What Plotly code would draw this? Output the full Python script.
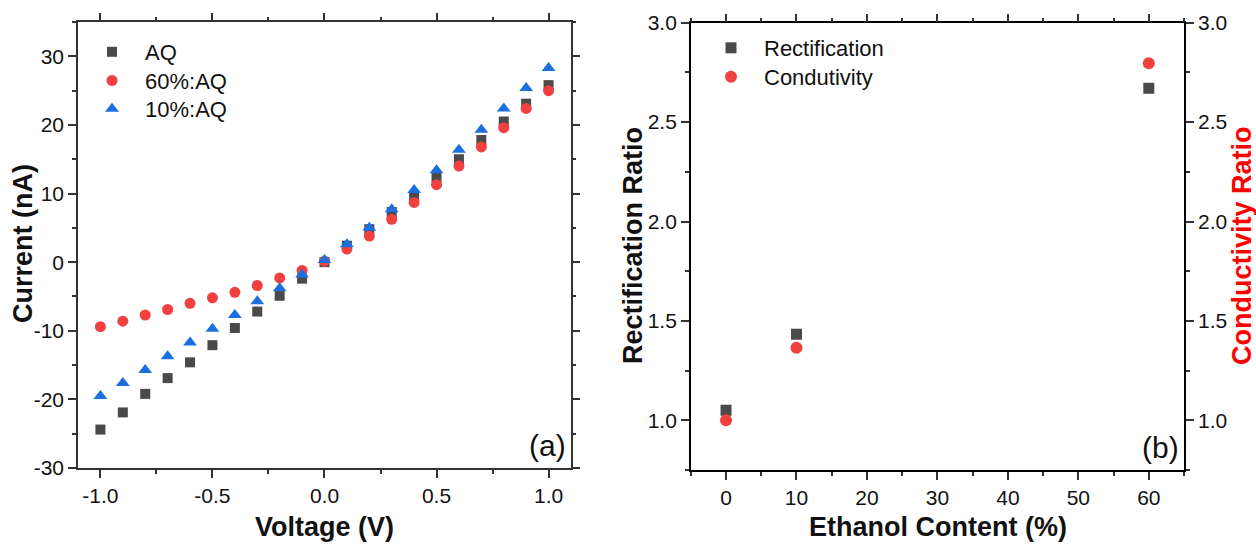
import plotly.graph_objects as go

# ---------------- data ----------------
voltage = [-1.0, -0.9, -0.8, -0.7, -0.6, -0.5, -0.4, -0.3, -0.2, -0.1, 0.0,
           0.1, 0.2, 0.3, 0.4, 0.5, 0.6, 0.7, 0.8, 0.9, 1.0]
current_aq = [-24.4, -21.9, -19.2, -16.9, -14.6, -12.1, -9.6, -7.2, -4.9, -2.4, 0.0,
              2.4, 4.8, 7.3, 9.7, 12.3, 15.0, 17.8, 20.5, 23.1, 25.8]
current_60 = [-9.4, -8.6, -7.7, -6.9, -6.0, -5.2, -4.4, -3.4, -2.3, -1.2, 0.15,
              1.9, 3.8, 6.25, 8.7, 11.3, 14.0, 16.8, 19.6, 22.4, 25.0]
current_10 = [-19.5, -17.6, -15.7, -13.7, -11.7, -9.7, -7.7, -5.7, -3.8, -1.8, 0.3,
              2.6, 5.0, 7.7, 10.5, 13.4, 16.4, 19.3, 22.4, 25.4, 28.3]

ethanol = [0, 10, 60]
rectification = [1.05, 1.433, 2.67]
conductivity = [1.0, 1.365, 2.796]

v_ticks = [-1.0, -0.5, 0.0, 0.5, 1.0]
v_ticktext = ["-1.0", "-0.5", "0.0", "0.5", "1.0"]
i_ticks = [-30, -20, -10, 0, 10, 20, 30]
i_ticktext = ["-30", "-20", "-10", "0", "10", "20", "30"]

gray = "#4a4a4a"
red = "#f04040"
blue = "#1b6fdf"
axcol = "#333333"
FONT = "Liberation Sans, Arial, sans-serif"

fig = go.Figure()

fig.add_trace(go.Scatter(x=voltage, y=current_aq, mode="markers", name="AQ",
                         marker=dict(symbol="square", size=10, color=gray),
                         xaxis="x", yaxis="y", legend="legend"))
fig.add_trace(go.Scatter(x=voltage, y=current_60, mode="markers", name="60%:AQ",
                         marker=dict(symbol="circle", size=11, color=red),
                         xaxis="x", yaxis="y", legend="legend2"))
fig.add_trace(go.Scatter(x=voltage, y=current_10, mode="markers", name="10%:AQ",
                         marker=dict(symbol="triangle-up", size=12, color=blue),
                         xaxis="x", yaxis="y", legend="legend3"))

fig.add_trace(go.Scatter(x=ethanol, y=rectification, mode="markers", name="Rectification",
                         marker=dict(symbol="square", size=11, color=gray),
                         xaxis="x2", yaxis="y2", legend="legend4"))
fig.add_trace(go.Scatter(x=ethanol, y=conductivity, mode="markers", name="Condutivity",
                         marker=dict(symbol="circle", size=12, color=red),
                         xaxis="x2", yaxis="y3", legend="legend5"))

# invisible copies that bind the top / right tick-only axes
fig.add_trace(go.Scatter(x=voltage, y=current_aq, mode="markers", marker=dict(opacity=0),
                         xaxis="x3", yaxis="y4", showlegend=False, hoverinfo="skip"))
fig.add_trace(go.Scatter(x=ethanol, y=rectification, mode="markers", marker=dict(opacity=0),
                         xaxis="x4", yaxis="y2", showlegend=False, hoverinfo="skip"))

tickfont = dict(family=FONT, size=21, color="#111")

def axis_common(**kw):
    d = dict(showgrid=False, zeroline=False, showline=True, linecolor=axcol, linewidth=1.5,
             ticks="outside", ticklen=8, tickwidth=1.5, tickcolor=axcol, tickfont=tickfont,
             automargin=False)
    d.update(kw)
    return d

def leg(xpix, ypix):
    return dict(x=xpix/1256, y=1 - ypix/545, xanchor="left", yanchor="middle",
                bgcolor="rgba(0,0,0,0)", itemwidth=56, borderwidth=0,
                font=dict(family=FONT, size=22, color="#111"))

dom_xa = [0.0621, 0.4546]
dom_ya = [0.1413, 0.9596]
dom_xb = [0.55, 0.9427]
dom_yb = [0.1376, 0.9583]

minor_x_a = dict(dtick=0.25, tick0=-1.0, ticks="outside", ticklen=4, tickwidth=1.5, tickcolor=axcol)
minor_y_a = dict(dtick=5, tick0=0, ticks="outside", ticklen=4, tickwidth=1.5, tickcolor=axcol)
minor_x_b = dict(dtick=5, tick0=0, ticks="outside", ticklen=4, tickwidth=1.5, tickcolor=axcol)
minor_y_b = dict(dtick=0.25, tick0=0, ticks="outside", ticklen=4, tickwidth=1.5, tickcolor=axcol)

fig.update_layout(
    width=1256, height=545,
    margin=dict(l=0, r=0, t=0, b=0, pad=0),
    paper_bgcolor="white", plot_bgcolor="white",
    font=dict(family=FONT, color="#111"),
    showlegend=True,
    # panel (a)
    xaxis=axis_common(domain=dom_xa, range=[-1.1, 1.1],
                      tickvals=v_ticks, ticktext=v_ticktext, mirror=True, anchor="y",
                      minor=minor_x_a),
    yaxis=axis_common(domain=dom_ya, range=[-30, 35],
                      tickvals=i_ticks, ticktext=i_ticktext, mirror=True, anchor="x",
                      minor=minor_y_a),
    xaxis3=axis_common(domain=dom_xa, range=[-1.1, 1.1], tickvals=v_ticks, showticklabels=False,
                       side="top", anchor="y4", showline=False, overlaying="x",
                       minor=minor_x_a),
    yaxis4=axis_common(domain=dom_ya, range=[-30, 35], tickvals=i_ticks, showticklabels=False,
                       side="right", anchor="x3", showline=False, overlaying="y",
                       minor=minor_y_a),
    # panel (b)
    xaxis2=axis_common(domain=dom_xb, range=[-5, 65], dtick=10, tick0=0,
                       mirror=True, anchor="y2", linecolor="black", minor=minor_x_b),
    yaxis2=axis_common(domain=dom_yb, range=[0.75, 3.0], dtick=0.5, tick0=0,
                       tickformat=".1f", anchor="x2", linecolor="black", minor=minor_y_b),
    yaxis3=axis_common(range=[0.75, 3.0], dtick=0.5, tick0=0, tickformat=".1f",
                       overlaying="y2", side="right", anchor="x2", linecolor="black",
                       minor=minor_y_b),
    xaxis4=axis_common(domain=dom_xb, range=[-5, 65], dtick=10, tick0=0, showticklabels=False,
                       overlaying="x2", side="top", anchor="y2", showline=False,
                       minor=minor_x_b),
    legend=leg(79, 52),
    legend2=leg(79, 80.7),
    legend3=leg(79, 109),
    legend4=leg(698, 48),
    legend5=leg(698, 77),
)

title_font = dict(family=FONT, size=27, color="#111")
ann = [
    dict(text="<b>Current (nA)</b>", x=23/1256, y=1 - 244/545, textangle=-90, font=title_font),
    dict(text="<b>Voltage (V)</b>", x=324.5/1256, y=1 - 527/545, font=title_font),
    dict(text="<b>Rectification Ratio</b>", x=633/1256, y=1 - 246/545, textangle=-90, font=title_font),
    dict(text="<b>Ethanol Content (%)</b>", x=937.5/1256, y=1 - 527/545, font=title_font),
    dict(text="<b>Conductivity Ratio</b>", x=1242/1256, y=1 - 246/545, textangle=-90,
         font=dict(family=FONT, size=27, color="#ff0000")),
    dict(text="(a)", x=568/1256, y=1 - 445/545, xanchor="right",
         font=dict(family=FONT, size=30, color="#111")),
    dict(text="(b)", x=1181/1256, y=1 - 447/545, xanchor="right",
         font=dict(family=FONT, size=30, color="#111")),
]
for a in ann:
    a.setdefault("xanchor", "center")
    a.update(xref="paper", yref="paper", yanchor="middle", showarrow=False)
fig.update_layout(annotations=ann)

fig.write_html("out.html")
